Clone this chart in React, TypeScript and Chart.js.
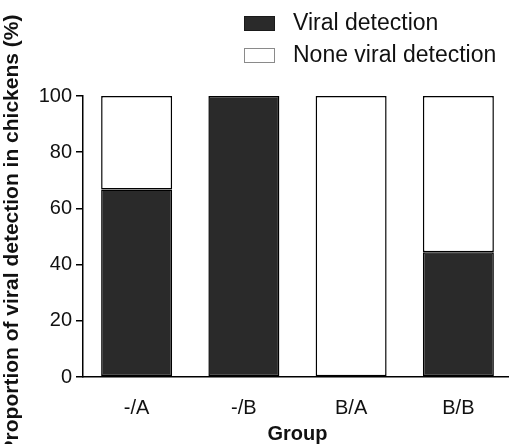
import React, { useEffect, useRef } from 'react';
import { Chart, registerables } from 'chart.js';

Chart.register(...registerables);

const categories = ['-/A', '-/B', 'B/A', 'B/B'];
const viralDetection = [66.7, 100, 0, 44.4];
const noneViralDetection = [33.3, 0, 100, 55.6];
const seriesLabels = ['Viral detection', 'None viral detection'];
const yTickStep = 20;
const yMin = 0;
const yMax = 100;
const yTitle = 'Proportion of viral detection in chickens (%)';
const xTitle = 'Group';

const FONT = '"Liberation Sans", Arial, Helvetica, sans-serif';

const legendPlugin = {
  id: 'customLegend',
  afterDraw(chart: any) {
    const ctx = chart.ctx;
    ctx.save();
    chart.data.datasets.forEach((ds: any, i: number) => {
      const bx = 244;
      const by = 16 + i * 32;
      const bw = 31;
      const bh = 15;
      ctx.fillStyle = ds.backgroundColor;
      ctx.fillRect(bx, by, bw, bh);
      ctx.lineWidth = 1;
      ctx.strokeStyle = i === 0 ? '#1a1a1a' : '#8a8a8a';
      ctx.strokeRect(bx + 0.5, by + 0.5, bw - 1, bh - 1);
      ctx.fillStyle = '#111';
      ctx.font = `23px ${FONT}`;
      ctx.textAlign = 'left';
      ctx.textBaseline = 'middle';
      ctx.fillText(ds.label, 293, by + bh / 2 + 0.5);
    });
    ctx.restore();
  },
};

const yTitlePlugin = {
  id: 'yTitle',
  afterDraw(chart: any) {
    const ctx = chart.ctx;
    const area = chart.chartArea;
    ctx.save();
    ctx.translate(12.5, (area.top + area.bottom) / 2 - 2);
    ctx.rotate(-Math.PI / 2);
    ctx.font = `bold 21px ${FONT}`;
    ctx.fillStyle = '#111';
    ctx.textAlign = 'center';
    ctx.textBaseline = 'middle';
    ctx.fillText(yTitle, 0, 0);
    ctx.restore();
  },
};

const borderFor = (c: any) => (c.raw === 0 ? 0 : 1.5);

export default function App() {
  const canvasRef = useRef<HTMLCanvasElement | null>(null);

  useEffect(() => {
    const canvas = canvasRef.current;
    if (!canvas) return;
    const chart = new Chart(canvas, {
      type: 'bar',
      data: {
        labels: categories,
        datasets: [
          {
            label: seriesLabels[0],
            data: viralDetection,
            backgroundColor: '#2a2a2a',
            borderColor: '#000',
            borderWidth: borderFor,
            borderSkipped: false,
            inflateAmount: 0,
          },
          {
            label: seriesLabels[1],
            data: noneViralDetection,
            backgroundColor: '#ffffff',
            borderColor: '#000',
            borderWidth: borderFor,
            borderSkipped: false,
            inflateAmount: 0,
          },
        ],
      },
      options: {
        animation: false,
        responsive: false,
        maintainAspectRatio: false,
        layout: { padding: { top: 96, left: 0, right: 8, bottom: 0 } },
        datasets: {
          bar: { categoryPercentage: 1, barPercentage: 0.662 },
        },
        plugins: {
          legend: { display: false },
          tooltip: { enabled: false },
        },
        scales: {
          x: {
            stacked: true,
            afterFit: (scale: any) => {
              scale.height = 67;
            },
            grid: { display: false, drawTicks: false },
            border: { display: true, color: '#000', width: 1.5 },
            ticks: {
              padding: 19,
              color: '#111',
              font: { family: FONT, size: 20 },
            },
            title: {
              display: true,
              text: xTitle,
              color: '#111',
              font: { family: FONT, size: 20, weight: 'bold', lineHeight: 1 },
              padding: 0,
            },
          },
          y: {
            stacked: true,
            min: yMin,
            max: yMax,
            afterFit: (scale: any) => {
              scale.width = 83;
            },
            grid: {
              drawOnChartArea: false,
              drawTicks: true,
              tickLength: 7,
              color: '#000',
              lineWidth: 1.5,
            },
            border: { display: true, color: '#000', width: 1.5 },
            ticks: {
              stepSize: yTickStep,
              padding: 4,
              color: '#111',
              font: { family: FONT, size: 20 },
            },
            title: { display: false, text: yTitle },
          },
        },
      },
      plugins: [legendPlugin, yTitlePlugin],
    } as any);
    return () => chart.destroy();
  }, []);

  return (
    <div
      style={{
        position: 'absolute',
        left: 0,
        top: 0,
        width: 509,
        height: 444,
        overflow: 'hidden',
        background: '#fff',
      }}
    >
      <canvas ref={canvasRef} width={520} height={444} style={{ display: 'block', width: 520, height: 444 }} />
    </div>
  );
}
